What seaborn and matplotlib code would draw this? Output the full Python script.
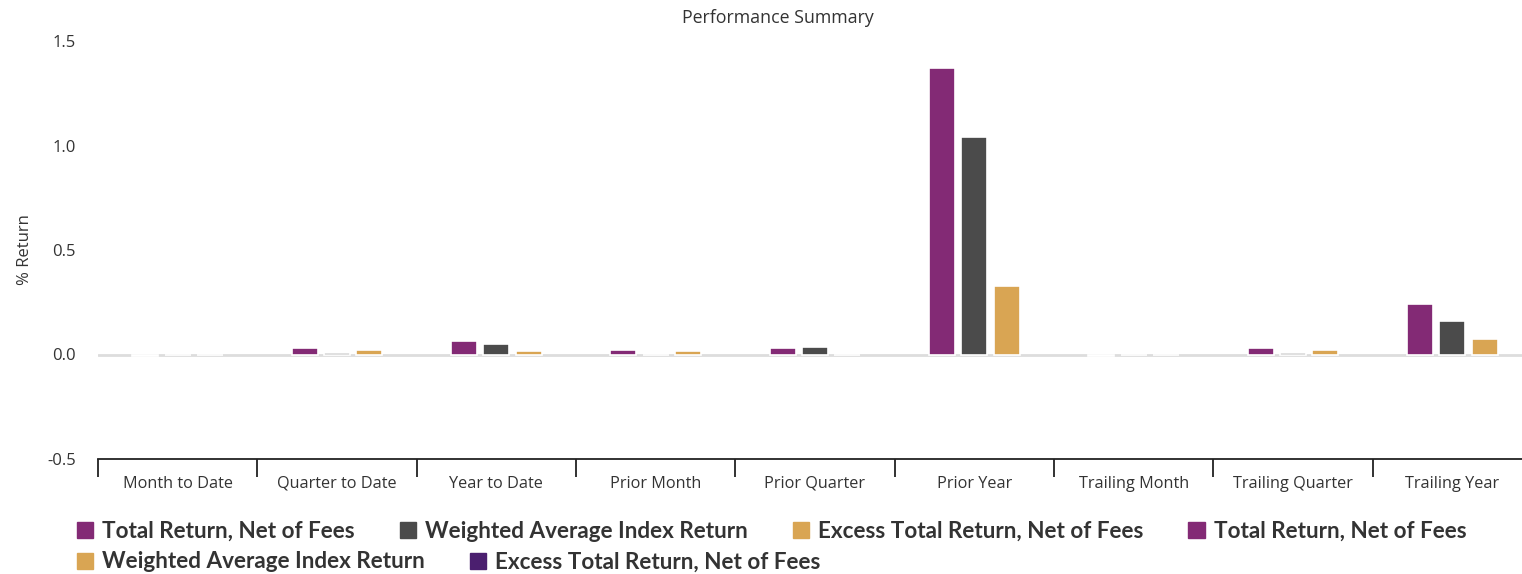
import numpy as np
import pandas as pd
import seaborn as sns
import matplotlib.pyplot as plt
from matplotlib.patches import Patch

# данные
periods = ["Month to Date", "Quarter to Date", "Year to Date", "Prior Month",
           "Prior Quarter", "Prior Year", "Trailing Month", "Trailing Quarter",
           "Trailing Year"]
series = ["Total Return, Net of Fees", "Weighted Average Index Return",
          "Excess Total Return, Net of Fees"]
total_ret = [-0.005, 0.029, 0.066, 0.020, 0.029, 1.37, -0.005, 0.030, 0.244]
index_ret = [0.0, 0.005, 0.051, 0.0, 0.038, 1.04, 0.0, 0.006, 0.162]
excess_ret = [0.0, 0.022, 0.015, 0.015, 0.0, 0.33, 0.0, 0.022, 0.072]
y_ticks = [-0.5, 0.0, 0.5, 1.0, 1.5]

colors = ["#832a75", "#4b4b4b", "#d9a553"]
extra_legend = [("Total Return, Net of Fees", "#832a75"),
                ("Weighted Average Index Return", "#d9a553"),
                ("Excess Total Return, Net of Fees", "#4b1f6f")]

df = pd.DataFrame({
    "period": periods * 3,
    "series": [series[0]] * 9 + [series[1]] * 9 + [series[2]] * 9,
    "value": total_ret + index_ret + excess_ret,
})

sns.set_theme(style="white")
plt.rcParams['font.family'] = ['Open Sans', 'DejaVu Sans']

fig = plt.figure(figsize=(15.22, 5.74), dpi=100)
ax = fig.add_axes([98 / 1522, 1 - 459 / 574, 1434 / 1522, 418 / 574])

# линия нуля под столбиками
ax.axhline(0, color="#dddddd", lw=2, zorder=0)

sns.barplot(data=df, x="period", y="value", hue="series", order=periods,
            hue_order=series, palette=colors, saturation=1, width=0.61,
            gap=0.2, edgecolor="white", linewidth=1.2, errorbar=None,
            legend=False, ax=ax, zorder=2)

ax.set_xlim(-0.5, 8.5)
ax.set_ylim(-0.5, 1.5)
ax.set_yticks(y_ticks)
ax.set_yticklabels([f"{v:.1f}" for v in y_ticks], fontsize=12, color="#333333")
ax.tick_params(axis="y", length=0, pad=16)

ax.set_xticks(range(9))
ax.set_xticklabels(periods, fontsize=11.7, color="#333333")
ax.set_xticks(np.arange(-0.5, 9, 1), minor=True)
ax.tick_params(axis="x", which="major", length=0, pad=12)
ax.tick_params(axis="x", which="minor", length=13, width=1.3, color="#222222",
               direction="out", bottom=True)
ax.set_xlabel("")
ax.set_ylabel("% Return", fontsize=12, color="#333333", labelpad=10)

for s in ["left", "right", "top"]:
    ax.spines[s].set_visible(False)
ax.spines["bottom"].set_color("#222222")
ax.spines["bottom"].set_linewidth(1.3)

fig.text(778 / 1522, 1 - 18 / 574, "Performance Summary", ha="center",
         va="center", fontsize=12.8, color="#333333")

# легенда в две строки
row1 = [Patch(color=c) for c in colors] + [Patch(color=extra_legend[0][1])]
lab1 = series + [extra_legend[0][0]]
row2 = [Patch(color=c) for _, c in extra_legend[1:]]
lab2 = [l for l, _ in extra_legend[1:]]
leg_kw = dict(frameon=False, handlelength=0.72, handleheight=0.72,
              handletextpad=0.4, columnspacing=2.0, borderaxespad=0,
              borderpad=0, prop={"family": "Lato", "weight": "bold", "size": 16.2},
              labelcolor="#333333")
l1 = fig.legend(row1, lab1, ncol=4, loc="center left",
                bbox_to_anchor=(77 / 1522, 1 - 531 / 574), **leg_kw)
l2 = fig.legend(row2, lab2, ncol=2, loc="center left",
                bbox_to_anchor=(77 / 1522, 1 - 562 / 574), **leg_kw)

fig.savefig("out.png", dpi=100)
